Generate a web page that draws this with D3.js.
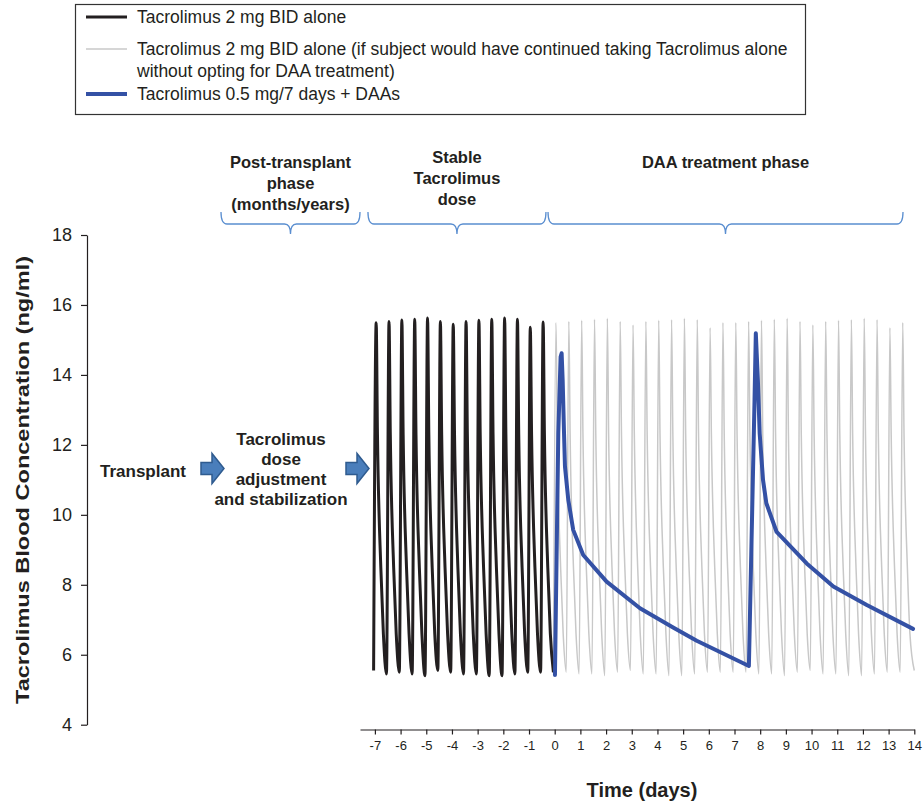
<!DOCTYPE html>
<html>
<head>
<meta charset="utf-8">
<script src="https://cdn.jsdelivr.net/npm/d3@7"></script>
<style>
body { margin: 0; background: #fff; }
text { font-family: "Liberation Sans", Arial, sans-serif; fill: #231f20; }
</style>
</head>
<body>
<div id="chart"></div>
<script>
var w = 923;
var h = 802;

// tick labels
var xTicks = [-7, -6, -5, -4, -3, -2, -1, 0, 1, 2, 3, 4, 5, 6, 7, 8, 9, 10, 11, 12, 13, 14];
var yTicks = [4, 6, 8, 10, 12, 14, 16, 18];

// Tacrolimus 2 mg BID alone, day -7 to 0 (day of each trough before a dose)
var stableDoseDays = [-7.05, -6.55, -6.05, -5.55, -5.05, -4.55, -4.05, -3.55, -3.05, -2.55, -2.05, -1.55, -1.05, -0.55];
var stablePeaks = [15.49, 15.53, 15.57, 15.59, 15.63, 15.53, 15.45, 15.53, 15.56, 15.59, 15.63, 15.59, 15.36, 15.51];
var stableTroughs = [5.55, 5.45, 5.5, 5.45, 5.4, 5.55, 5.5, 5.45, 5.45, 5.4, 5.4, 5.45, 5.5, 5.5];

// same regimen if continued, day 0 to 14
var aloneDoseDays = [-0.05, 0.45, 0.95, 1.45, 1.95, 2.45, 2.95, 3.45, 3.95, 4.45, 4.95, 5.45, 5.95, 6.45,
                     6.95, 7.45, 7.95, 8.45, 8.95, 9.45, 9.95, 10.45, 10.95, 11.45, 11.95, 12.45, 12.95, 13.45];
var alonePeaks = [15.5, 15.53, 15.56, 15.59, 15.62, 15.53, 15.43, 15.53, 15.56, 15.58, 15.62, 15.58, 15.35, 15.5,
                  15.5, 15.53, 15.56, 15.59, 15.62, 15.53, 15.43, 15.53, 15.56, 15.58, 15.62, 15.58, 15.35, 15.5];
var aloneTroughs = [5.5, 5.5, 5.45, 5.45, 5.4, 5.5, 5.55, 5.45, 5.45, 5.4, 5.4, 5.45, 5.5, 5.5,
                    5.5, 5.5, 5.45, 5.45, 5.4, 5.5, 5.55, 5.45, 5.45, 5.4, 5.4, 5.45, 5.5, 5.5];

// shape of one 12 h interval (days after trough)
var peakDay = 0.10;
var decayDays = [0.15, 0.28, 0.38];
var decayConc = [12.3, 8.5, 6.6];

// Tacrolimus 0.5 mg/7 days + DAAs
var daaDays = [0.01, 0.14, 0.23, 0.27, 0.31, 0.36, 0.40, 0.53, 0.72, 1.11, 2.02, 3.32, 4.61, 5.53,
               7.56, 7.78, 7.83, 7.91, 7.98, 8.11, 8.24, 8.64, 9.81, 10.85, 12.15, 13.95];
var daaConc = [5.42, 12.34, 14.52, 14.62, 13.85, 12.42, 11.38, 10.42, 9.57, 8.85, 8.09, 7.33, 6.78, 6.40,
               5.68, 13.28, 15.19, 13.85, 12.33, 11.0, 10.33, 9.51, 8.61, 7.95, 7.42, 6.74];

var legendItems = [
  {label: ["Tacrolimus 2 mg BID alone"], color: "#231f20", width: 3},
  {label: ["Tacrolimus 2 mg BID alone (if subject would have continued taking Tacrolimus alone",
           "without opting for DAA treatment)"], color: "#c8c8c8", width: 1.5},
  {label: ["Tacrolimus 0.5 mg/7 days + DAAs"], color: "#3451a5", width: 4}
];

var svg = d3.select("#chart")
  .append("svg")
  .attr("width", w)
  .attr("height", h);

var x = d3.scaleLinear().domain([-7.58, 14]).range([360, 914.3]);
var y = d3.scaleLinear().domain([4, 18]).range([724.7, 235]);

// axes
var xAxis = svg.append("g")
  .attr("transform", "translate(0,729.5)")
  .call(d3.axisBottom(x).tickValues(xTicks).tickSizeOuter(0).tickSizeInner(5).tickPadding(6)
    .tickFormat(function(d) { return String(d); }));
xAxis.selectAll("text").style("font-size", "13px").attr("fill", "#231f20");

var yAxis = svg.append("g")
  .attr("transform", "translate(87,0)")
  .call(d3.axisLeft(y).tickValues(yTicks).tickSizeOuter(0).tickSizeInner(6).tickPadding(9));
yAxis.selectAll("text").style("font-size", "18px").attr("fill", "#231f20");

svg.selectAll(".domain, .tick line").attr("stroke", "#231f20").attr("stroke-width", 1.2);
svg.selectAll(".tick text").style("font-family", "'Liberation Sans', Arial, sans-serif");

// build cycle points from the read peaks/troughs
function cycles(doseDays, peaks, troughs, endDay, endConc) {
  var pts = [];
  doseDays.forEach(function(d, i) {
    pts.push([d, troughs[i]]);
    pts.push([d + peakDay, peaks[i]]);
    decayDays.forEach(function(o, j) {
      pts.push([d + o, decayConc[j]]);
    });
  });
  pts.push([endDay, endConc]);
  return pts;
}

var smooth = d3.line()
  .x(function(d) { return x(d[0]); })
  .y(function(d) { return y(d[1]); })
  .curve(d3.curveMonotoneX);

svg.append("path")
  .datum(cycles(aloneDoseDays, alonePeaks, aloneTroughs, 14.0, 5.55))
  .attr("fill", "none")
  .attr("stroke", "#c8c8c8")
  .attr("stroke-width", 1.5)
  .attr("d", smooth);

svg.append("path")
  .datum(cycles(stableDoseDays, stablePeaks, stableTroughs, -0.05, 5.5))
  .attr("fill", "none")
  .attr("stroke", "#231f20")
  .attr("stroke-width", 3)
  .attr("stroke-linejoin", "round")
  .attr("d", smooth);

var daaLine = d3.line()
  .x(function(d, i) { return x(daaDays[i]); })
  .y(function(d) { return y(d); });

svg.append("path")
  .datum(daaConc)
  .attr("fill", "none")
  .attr("stroke", "#3451a5")
  .attr("stroke-width", 4)
  .attr("stroke-linejoin", "round")
  .attr("stroke-linecap", "round")
  .attr("d", daaLine);

// axis titles
svg.append("text")
  .attr("transform", "translate(29,480) rotate(-90)")
  .attr("text-anchor", "middle")
  .attr("textLength", 448)
  .attr("lengthAdjust", "spacingAndGlyphs")
  .style("font-size", "19px")
  .style("font-weight", "bold")
  .text("Tacrolimus Blood Concentration (ng/ml)");

svg.append("text")
  .attr("x", 642)
  .attr("y", 797)
  .attr("text-anchor", "middle")
  .style("font-size", "20px")
  .style("font-weight", "bold")
  .text("Time (days)");

// phase headers with braces
var phases = [
  {lines: ["Post-transplant", "phase", "(months/years)"], x0: 221, x1: 360, top: 168},
  {lines: ["Stable", "Tacrolimus", "dose"], x0: x(-7.27), x1: x(-0.34), top: 163},
  {lines: ["DAA treatment phase"], x0: x(-0.26), x1: x(13.56), top: 168}
];

phases.forEach(function(p) {
  var xm = (p.x0 + p.x1) / 2;
  var t = svg.append("text")
    .attr("text-anchor", "middle")
    .style("font-size", "16.5px")
    .style("font-weight", "bold");
  p.lines.forEach(function(l, i) {
    t.append("tspan").attr("x", xm).attr("y", p.top + i * 21).text(l);
  });
  var y0 = 212, y1 = 224, y2 = 234;
  svg.append("path")
    .attr("fill", "none")
    .attr("stroke", "#5a8ed0")
    .attr("stroke-width", 1.3)
    .attr("d", "M" + p.x0 + "," + y0 +
      " Q" + p.x0 + "," + y1 + " " + (p.x0 + 6) + "," + y1 +
      " L" + (xm - 6) + "," + y1 +
      " Q" + xm + "," + y1 + " " + xm + "," + y2 +
      " Q" + xm + "," + y1 + " " + (xm + 6) + "," + y1 +
      " L" + (p.x1 - 6) + "," + y1 +
      " Q" + p.x1 + "," + y1 + " " + p.x1 + "," + y0);
});

// left-hand annotations
svg.append("text")
  .attr("x", 143)
  .attr("y", 477)
  .attr("text-anchor", "middle")
  .style("font-size", "17px")
  .style("font-weight", "bold")
  .text("Transplant");

var adj = svg.append("text")
  .attr("text-anchor", "middle")
  .style("font-size", "17px")
  .style("font-weight", "bold");
["Tacrolimus", "dose", "adjustment", "and stabilization"].forEach(function(l, i) {
  adj.append("tspan").attr("x", 281).attr("y", 445 + i * 20).text(l);
});

function arrow(x0) {
  var cy = 468.5;
  svg.append("path")
    .attr("fill", "#4a7ebb")
    .attr("stroke", "#2f5b8f")
    .attr("stroke-width", 1.5)
    .attr("d", "M" + x0 + "," + (cy - 6) + " L" + (x0 + 11) + "," + (cy - 6) +
      " L" + (x0 + 11) + "," + (cy - 15) + " L" + (x0 + 23) + "," + cy +
      " L" + (x0 + 11) + "," + (cy + 15) + " L" + (x0 + 11) + "," + (cy + 6) +
      " L" + x0 + "," + (cy + 6) + " Z");
}
arrow(201);
arrow(346);

// legend
var legend = svg.append("g");
legend.append("rect")
  .attr("x", 75.5)
  .attr("y", 4.5)
  .attr("width", 730)
  .attr("height", 110)
  .attr("fill", "none")
  .attr("stroke", "#333")
  .attr("stroke-width", 1.2);

var rowY = [17, 49, 94];
legendItems.forEach(function(d, i) {
  legend.append("line")
    .attr("x1", 86).attr("x2", 127)
    .attr("y1", rowY[i]).attr("y2", rowY[i])
    .attr("stroke", d.color)
    .attr("stroke-width", d.width);
  d.label.forEach(function(l, j) {
    legend.append("text")
      .attr("x", 137)
      .attr("y", rowY[i] + 6 + j * 22)
      .style("font-size", "17.5px")
      .text(l);
  });
});
</script>
</body>
</html>
